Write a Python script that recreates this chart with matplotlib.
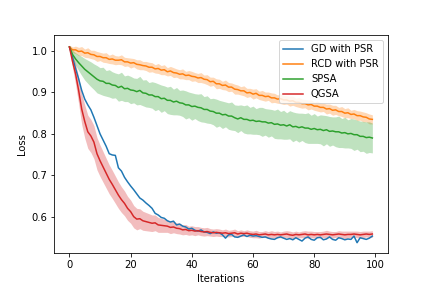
import matplotlib
matplotlib.use("Agg")
import matplotlib.pyplot as plt
import numpy as np

iterations = list(range(100))

gd_psr = [1.010, 0.985, 0.958, 0.933, 0.905, 0.884, 0.870, 0.858, 0.840, 0.820,
          0.800, 0.785, 0.770, 0.752, 0.749, 0.748, 0.718, 0.710, 0.695, 0.684,
          0.674, 0.665, 0.655, 0.645, 0.640, 0.633, 0.627, 0.620, 0.608, 0.604,
          0.598, 0.596, 0.590, 0.587, 0.589, 0.580, 0.582, 0.577, 0.575, 0.570,
          0.572, 0.567, 0.565, 0.568, 0.563, 0.562, 0.559, 0.563, 0.560, 0.561,
          0.556, 0.548, 0.556, 0.557, 0.551, 0.550, 0.553, 0.556, 0.552, 0.555,
          0.553, 0.554, 0.552, 0.550, 0.551, 0.548, 0.546, 0.545, 0.549, 0.551,
          0.548, 0.545, 0.547, 0.544, 0.549, 0.545, 0.541, 0.548, 0.551, 0.545,
          0.543, 0.549, 0.550, 0.544, 0.546, 0.551, 0.545, 0.543, 0.549, 0.547,
          0.544, 0.546, 0.545, 0.553, 0.537, 0.549, 0.547, 0.545, 0.548, 0.553]

rcd_psr = [1.010, 1.003, 1.003, 0.999, 1.000, 0.995, 0.996, 0.992, 0.991, 0.987,
           0.987, 0.984, 0.984, 0.980, 0.981, 0.978, 0.978, 0.979, 0.974, 0.974,
           0.971, 0.972, 0.968, 0.967, 0.965, 0.964, 0.961, 0.961, 0.957, 0.958,
           0.954, 0.955, 0.950, 0.952, 0.948, 0.947, 0.944, 0.945, 0.941, 0.942,
           0.939, 0.938, 0.935, 0.936, 0.932, 0.931, 0.926, 0.927, 0.921, 0.921,
           0.917, 0.918, 0.913, 0.913, 0.908, 0.907, 0.904, 0.904, 0.899, 0.900,
           0.896, 0.898, 0.893, 0.893, 0.890, 0.891, 0.887, 0.887, 0.884, 0.885,
           0.882, 0.882, 0.879, 0.880, 0.876, 0.876, 0.873, 0.873, 0.870, 0.871,
           0.867, 0.867, 0.864, 0.864, 0.860, 0.861, 0.857, 0.858, 0.854, 0.854,
           0.850, 0.851, 0.847, 0.848, 0.844, 0.844, 0.841, 0.840, 0.836, 0.835]
rcd_std = [0.004, 0.007, 0.009, 0.010, 0.011, 0.010, 0.012, 0.010, 0.011, 0.012,
           0.010, 0.011, 0.012, 0.010, 0.012, 0.011, 0.010, 0.012, 0.011, 0.010,
           0.012, 0.010, 0.011, 0.012, 0.010, 0.011, 0.012, 0.011, 0.010, 0.012,
           0.011, 0.012, 0.010, 0.011, 0.012, 0.010, 0.011, 0.012, 0.010, 0.011,
           0.012, 0.010, 0.011, 0.012, 0.010, 0.012, 0.011, 0.010, 0.012, 0.011,
           0.010, 0.012, 0.011, 0.010, 0.012, 0.011, 0.010, 0.012, 0.011, 0.010,
           0.012, 0.011, 0.010, 0.012, 0.011, 0.010, 0.012, 0.011, 0.010, 0.012,
           0.011, 0.010, 0.012, 0.011, 0.010, 0.012, 0.011, 0.010, 0.012, 0.011,
           0.010, 0.012, 0.011, 0.010, 0.012, 0.011, 0.012, 0.011, 0.010, 0.012,
           0.011, 0.012, 0.010, 0.011, 0.012, 0.011, 0.012, 0.011, 0.012, 0.011]

spsa = [1.010, 0.992, 0.981, 0.972, 0.964, 0.956, 0.950, 0.944, 0.938, 0.932,
        0.928, 0.927, 0.922, 0.922, 0.918, 0.917, 0.912, 0.915, 0.909, 0.910,
        0.906, 0.905, 0.902, 0.905, 0.899, 0.898, 0.894, 0.894, 0.890, 0.890,
        0.885, 0.886, 0.881, 0.881, 0.877, 0.879, 0.875, 0.874, 0.870, 0.870,
        0.866, 0.867, 0.864, 0.863, 0.859, 0.859, 0.855, 0.854, 0.850, 0.850,
        0.846, 0.847, 0.843, 0.843, 0.839, 0.836, 0.839, 0.835, 0.835, 0.832,
        0.833, 0.830, 0.831, 0.829, 0.829, 0.826, 0.827, 0.823, 0.824, 0.821,
        0.822, 0.819, 0.822, 0.817, 0.818, 0.815, 0.817, 0.814, 0.814, 0.811,
        0.813, 0.810, 0.811, 0.808, 0.810, 0.806, 0.807, 0.805, 0.805, 0.802,
        0.803, 0.800, 0.801, 0.798, 0.798, 0.794, 0.794, 0.791, 0.792, 0.790]
spsa_std = [0.004, 0.010, 0.015, 0.019, 0.023, 0.026, 0.028, 0.030, 0.031, 0.033,
            0.032, 0.034, 0.031, 0.033, 0.032, 0.030, 0.033, 0.034, 0.031, 0.032,
            0.033, 0.030, 0.032, 0.034, 0.031, 0.033, 0.030, 0.032, 0.034, 0.031,
            0.033, 0.030, 0.032, 0.034, 0.031, 0.033, 0.030, 0.032, 0.034, 0.031,
            0.033, 0.030, 0.032, 0.034, 0.031, 0.033, 0.030, 0.032, 0.034, 0.031,
            0.033, 0.030, 0.032, 0.034, 0.031, 0.033, 0.031, 0.033, 0.035, 0.032,
            0.034, 0.031, 0.033, 0.035, 0.032, 0.034, 0.032, 0.034, 0.036, 0.033,
            0.035, 0.032, 0.034, 0.036, 0.033, 0.035, 0.033, 0.035, 0.037, 0.034,
            0.036, 0.033, 0.035, 0.037, 0.034, 0.036, 0.034, 0.036, 0.038, 0.035,
            0.037, 0.034, 0.036, 0.038, 0.035, 0.037, 0.036, 0.038, 0.037, 0.036]

qgsa = [1.010, 0.975, 0.945, 0.905, 0.860, 0.830, 0.805, 0.795, 0.780, 0.752,
        0.735, 0.720, 0.705, 0.690, 0.678, 0.665, 0.652, 0.641, 0.632, 0.620,
        0.612, 0.600, 0.594, 0.595, 0.590, 0.588, 0.586, 0.584, 0.585, 0.580,
        0.579, 0.578, 0.577, 0.574, 0.575, 0.572, 0.571, 0.568, 0.569, 0.566,
        0.567, 0.565, 0.566, 0.564, 0.563, 0.564, 0.562, 0.561, 0.562, 0.561,
        0.560, 0.561, 0.559, 0.560, 0.561, 0.558, 0.560, 0.559, 0.560, 0.558,
        0.557, 0.558, 0.556, 0.557, 0.558, 0.556, 0.557, 0.556, 0.557, 0.556,
        0.557, 0.558, 0.556, 0.555, 0.557, 0.556, 0.557, 0.558, 0.556, 0.557,
        0.556, 0.557, 0.556, 0.557, 0.558, 0.557, 0.556, 0.557, 0.558, 0.557,
        0.556, 0.557, 0.557, 0.558, 0.557, 0.556, 0.557, 0.558, 0.557, 0.558]
qgsa_std = [0.004, 0.015, 0.025, 0.032, 0.037, 0.040, 0.040, 0.040, 0.040, 0.039,
            0.038, 0.037, 0.036, 0.035, 0.034, 0.033, 0.032, 0.031, 0.030, 0.029,
            0.028, 0.027, 0.026, 0.024, 0.023, 0.022, 0.021, 0.020, 0.019, 0.018,
            0.017, 0.016, 0.015, 0.015, 0.014, 0.013, 0.013, 0.012, 0.012, 0.011,
            0.011, 0.011, 0.010, 0.010, 0.010, 0.010, 0.009, 0.009, 0.009, 0.009,
            0.008, 0.009, 0.008, 0.008, 0.009, 0.008, 0.008, 0.007, 0.008, 0.008,
            0.008, 0.009, 0.008, 0.007, 0.008, 0.008, 0.009, 0.008, 0.008, 0.007,
            0.008, 0.008, 0.009, 0.008, 0.008, 0.007, 0.008, 0.008, 0.009, 0.008,
            0.008, 0.007, 0.008, 0.008, 0.009, 0.008, 0.008, 0.007, 0.008, 0.008,
            0.009, 0.008, 0.008, 0.007, 0.008, 0.008, 0.008, 0.007, 0.008, 0.008]

labels = ["GD with PSR", "RCD with PSR", "SPSA", "QGSA"]
colors = ["#1f77b4", "#ff7f0e", "#2ca02c", "#d62728"]

fig = plt.figure(figsize=(6, 4), dpi=72)
ax = fig.add_subplot(111)
fig.subplots_adjust(left=0.1257, right=0.897, bottom=0.123, top=0.877)

x = np.array(iterations)
ax.plot(x, gd_psr, color=colors[0], label=labels[0])
for mean, std, lab, col in [(rcd_psr, rcd_std, labels[1], colors[1]),
                            (spsa, spsa_std, labels[2], colors[2]),
                            (qgsa, qgsa_std, labels[3], colors[3])]:
    m = np.array(mean)
    s = np.array(std)
    ax.plot(x, m, color=col, label=lab)
    ax.fill_between(x, m - s, m + s, color=col, alpha=0.3, linewidth=0)

ax.set_xlabel("Iterations")
ax.set_ylabel("Loss")
ax.legend(loc="upper right")
fig.savefig("out.png", dpi=72)
